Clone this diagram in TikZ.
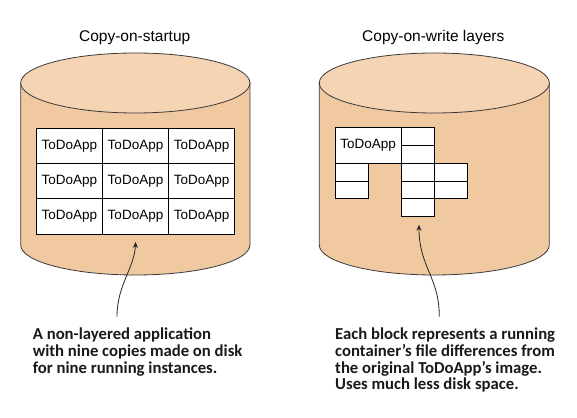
\documentclass[tikz,border=0pt]{standalone}
\usepackage{fontspec}
\setmainfont{Liberation Sans}
\newfontfamily\notefont{Carlito}
\usetikzlibrary{arrows.meta}
\definecolor{bodyc}{HTML}{F1C9A1}
\definecolor{topc}{HTML}{F4D4B3}
\definecolor{edgec}{HTML}{3A3A3A}
\tikzset{
  cylbody/.style={fill=bodyc, draw=edgec, line width=0.8pt},
  cyltop/.style={fill=topc, draw=edgec, line width=0.8pt},
  bigcell/.style={draw=black, fill=white, line width=0.8pt, inner sep=0pt,
    minimum width=66.2pt, minimum height=35.3pt, font=\fontsize{13.5}{15}\selectfont},
  smallcell/.style={draw=black, fill=white, line width=0.8pt, inner sep=0pt,
    minimum width=33.1pt, minimum height=17.7pt},
  title/.style={font=\fontsize{15.5}{18}\selectfont, anchor=base, inner sep=0pt},
  note/.style={font=\notefont\bfseries\fontsize{16.7}{16.6}\selectfont, align=left, anchor=base west, inner sep=0pt, text=black!90},
  callout/.style={draw=black!85, line width=0.8pt, -{Stealth[length=6pt,width=5pt]}}
}
\begin{document}
\begin{tikzpicture}[x=1pt,y=1pt]
\useasboundingbox (0,0) rectangle (577,417);
% titles
\node[title] (t1) at (134.7,375.3) {Copy-on-startup};
\node[title] (t2) at (433.3,375.3) {Copy-on-write layers};
% left cylinder
\path[cylbody] (20.7,334) -- (20.7,172) arc[start angle=180, end angle=360, x radius=114.6pt, y radius=30pt] -- (249.9,334) -- cycle;
\path[cyltop] (135.3,334) ellipse[x radius=114.6pt, y radius=30pt];
% right cylinder
\path[cylbody] (319.3,334) -- (319.3,172) arc[start angle=180, end angle=360, x radius=115pt, y radius=30pt] -- (549.3,334) -- cycle;
\path[cyltop] (434.3,334) ellipse[x radius=115pt, y radius=30pt];
% left grid
\node[bigcell] (a11) at (69.3,271.2) {ToDoApp};
\node[bigcell] (a12) at (135.5,271.2) {ToDoApp};
\node[bigcell] (a13) at (201.7,271.2) {ToDoApp};
\node[bigcell] (a21) at (69.3,235.9) {ToDoApp};
\node[bigcell] (a22) at (135.5,235.9) {ToDoApp};
\node[bigcell] (a23) at (201.7,235.9) {ToDoApp};
\node[bigcell] (a31) at (69.3,200.6) {ToDoApp};
\node[bigcell] (a32) at (135.5,200.6) {ToDoApp};
\node[bigcell] (a33) at (201.7,200.6) {ToDoApp};
% right blocks
\node[bigcell] (base) at (368.2,271.5) {ToDoApp};
\node[smallcell] (m1) at (417.8,280.3) {};
\node[smallcell] (m2) at (417.8,262.6) {};
\node[smallcell] (m3) at (417.8,244.9) {};
\node[smallcell] (m4) at (417.8,227.2) {};
\node[smallcell] (m5) at (417.8,209.5) {};
\node[smallcell] (l1) at (351.7,244.9) {};
\node[smallcell] (l2) at (351.7,227.2) {};
\node[smallcell] (r1) at (450.9,244.9) {};
\node[smallcell] (r2) at (450.9,227.2) {};
% notes (anchor base = baseline of last line)
\node[note] (n1) at (32.7,43.8) {A non-layered application\\with nine copies made on disk\\for nine running instances.};
\node[note] (n2) at (335,27.2) {Each block represents a running\\container’s file differences from\\the original ToDoApp’s image.\\Uses much less disk space.};
% arrows
\coordinate (s1) at (117,100.3);
\coordinate (e1) at ([xshift=0.2pt,yshift=-7.5pt]a32.south);
\coordinate (s2) at (439.3,100.3);
\coordinate (e2) at ([xshift=1.2pt,yshift=-8pt]m5.south);
\draw[callout] (s1) .. controls (117,132) and (134,148) .. (e1);
\draw[callout] (s2) .. controls (439.3,140) and (419,150) .. (e2);
\end{tikzpicture}
\end{document}
